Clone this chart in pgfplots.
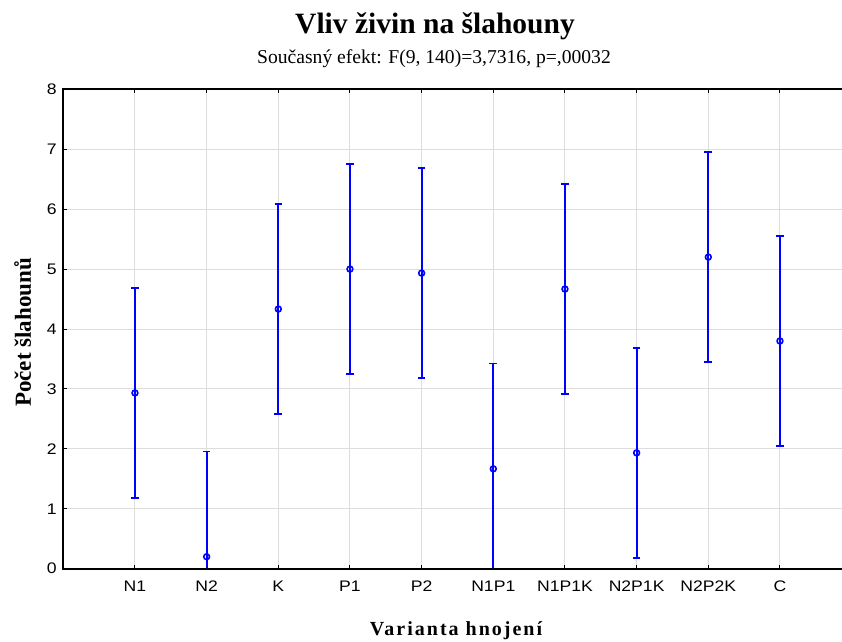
\documentclass[border=0pt]{standalone}
\usepackage{fontspec}
\setmainfont{Liberation Sans}
\newfontfamily\tnr{Liberation Serif}
\usepackage{graphicx}
\usepackage{pgfplots}
\pgfplotsset{compat=1.18}
\definecolor{gridgray}{RGB}{221,221,221}
% the reference sets its tick labels wider than Arial
\newcommand{\wx}[1]{\scalebox{1.15}[1]{#1}}

\begin{document}
\begin{tikzpicture}
\useasboundingbox (0,0) rectangle (842pt,641pt);
\begin{axis}[
    name=ax,
    at={(63.3pt,72.3pt)}, anchor=south west,
    scale only axis,
    width=779pt, height=479.4pt,
    xmin=0, xmax=10.87,
    ymin=0, ymax=8,
    xtick={1,...,10},
    xticklabels={\wx{N1},\wx{N2},\wx{K},\wx{P1},\wx{P2},\wx{N1P1},\wx{N1P1K},\wx{N2P1K},\wx{N2P2K},\wx{C}},
    ytick={0,1,...,8},
    yticklabels={\wx{0},\wx{1},\wx{2},\wx{3},\wx{4},\wx{5},\wx{6},\wx{7},\wx{8}},
    ytick pos=left,
    tick label style={font=\fontsize{15.3}{17}\selectfont},
    xticklabel style={yshift=-9pt},
    yticklabel style={xshift=-3pt},
    tick style={black, line width=1pt},
    major tick length=4pt,
    grid=major,
    grid style={gridgray, line width=1pt},
    axis line style={draw=none},
]
\addplot[only marks, blue, mark=o, mark size=2.9pt,
    mark options={fill=white, line width=1.6pt},
    error bars/.cd, y dir=both, y explicit,
    error bar style={blue, line width=2pt},
    error mark options={blue, rotate=90, mark size=3.8pt, line width=1.6pt}]
coordinates {
    (1,2.933) +- (0,1.755)
    (2,0.200) +- (0,1.755)
    (3,4.333) +- (0,1.755)
    (4,5.000) +- (0,1.755)
    (5,4.933) +- (0,1.755)
    (6,1.667) +- (0,1.755)
    (7,4.667) +- (0,1.755)
    (8,1.933) +- (0,1.755)
    (9,5.200) +- (0,1.755)
    (10,3.800) +- (0,1.755)
};
\end{axis}
\draw[black, line width=2pt] (ax.north east) -- (ax.north west) -- (ax.south west) -- (ax.south east);
\node[anchor=base, font=\tnr\bfseries\fontsize{29.5}{32}\selectfont] at (435pt,607.7pt) {Vliv živin na šlahouny};
\node[anchor=base, font=\tnr\fontsize{19.6}{22}\selectfont] at (434pt,577.5pt) {Současný efekt: F(9, 140)=3,7316, p=,00032};
\node[anchor=base, rotate=90, font=\tnr\bfseries\fontsize{23}{26}\selectfont] at (31pt,308.5pt) {Počet šlahounů};
\node[anchor=base, font=\tnr\bfseries\fontsize{20}{22}\selectfont\addfontfeature{LetterSpace=10}] at (456pt,6pt) {Varianta hnojení};
\end{tikzpicture}
\end{document}
